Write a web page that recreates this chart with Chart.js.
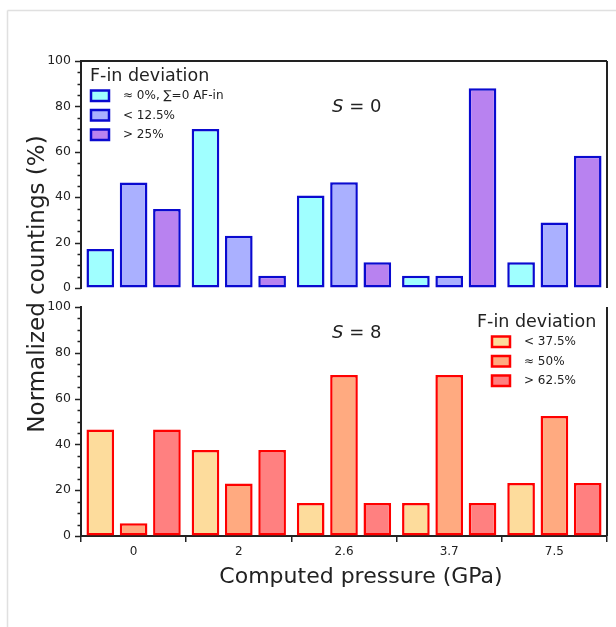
<!DOCTYPE html>
<html>
<head>
<meta charset="utf-8">
<script src="https://cdn.jsdelivr.net/npm/chart.js@4.4.1/dist/chart.umd.min.js"></script>
<style>
  body { margin: 0; background: #fff; }
  #wrap { position: relative; width: 616px; height: 627px; }
  canvas { position: absolute; left: 0; top: 0; }
</style>
</head>
<body>
<div id="wrap">
  <canvas id="bottomChart" width="616" height="627"></canvas>
  <canvas id="topChart" width="616" height="627"></canvas>
</div>
<script>
const pressures = ['0', '2', '2.6', '3.7', '7.5'];

// S = 0 panel
const s0Labels = ['\u2248 0%, \u2211=0 AF-in', '< 12.5%', '> 25%'];
const s0Zero = [17.2, 70, 40.7, 5.4, 11.3];
const s0Low = [46.5, 23, 46.6, 5.4, 28.9];
const s0High = [34.8, 5.4, 11.3, 88, 58.3];

// S = 8 panel
const s8Labels = ['< 37.5%', '\u2248 50%', '> 62.5%'];
const s8Low = [46.5, 37.6, 14.4, 14.4, 23.1];
const s8Half = [5.6, 22.9, 70.3, 70.3, 52.4];
const s8High = [46.5, 37.6, 14.4, 14.4, 23.1];

const FONT = "'DejaVu Sans', sans-serif";
const INK = '#222';

function line(ctx, x1, y1, x2, y2) {
  ctx.beginPath();
  ctx.moveTo(x1, y1);
  ctx.lineTo(x2, y2);
  ctx.stroke();
}

// frame, minor ticks, borders, S label, legend
const panelDecor = {
  id: 'panelDecor',
  afterDraw(chart, args, opts) {
    const ctx = chart.ctx;
    const { left, right, top, bottom } = chart.chartArea;
    const y = chart.scales.y;
    ctx.save();

    if (opts.frame) {
      ctx.strokeStyle = '#e0e0e0';
      ctx.lineWidth = 1.5;
      line(ctx, 7.5, 627, 7.5, 10.5);
      line(ctx, 7.5, 10.5, 616, 10.5);
    }

    ctx.strokeStyle = INK;
    ctx.lineWidth = 1.5;
    for (let v = 0; v <= 100; v += 5) {
      const py = Math.round(y.getPixelForValue(v)) + 0.5;
      const len = v % 20 === 0 ? 6 : 3.5;
      line(ctx, left - len, py, left, py);
    }
    ctx.lineWidth = 2;
    line(ctx, right, top, right, bottom);
    if (opts.topEdge) line(ctx, left, top, right, top);

    // S label
    ctx.fillStyle = INK;
    ctx.textBaseline = 'alphabetic';
    ctx.textAlign = 'left';
    ctx.font = 'italic 18px ' + FONT;
    ctx.fillText('S', opts.sX, opts.sY);
    const w = ctx.measureText('S').width;
    ctx.font = '18px ' + FONT;
    ctx.fillText(' = ' + opts.sValue, opts.sX + w, opts.sY);

    // legend
    ctx.font = '17.5px ' + FONT;
    ctx.fillText('F-in deviation', opts.legX, opts.legY);
    ctx.font = '12px ' + FONT;
    ctx.textBaseline = 'middle';
    chart.data.datasets.forEach((ds, i) => {
      const by = opts.legY + 8.5 + i * 19.5;
      ctx.fillStyle = ds.backgroundColor;
      ctx.fillRect(opts.boxX + 1, by + 1, 18, 10.5);
      ctx.strokeStyle = ds.borderColor;
      ctx.lineWidth = 2.5;
      ctx.strokeRect(opts.boxX + 1, by + 1, 18, 10.5);
      ctx.fillStyle = INK;
      ctx.fillText(ds.label, opts.textX, by + 6.5);
    });

    if (opts.titles) {
      ctx.fillStyle = INK;
      ctx.textAlign = 'center';
      ctx.textBaseline = 'alphabetic';
      ctx.font = '22px ' + FONT;
      ctx.fillText('Computed pressure (GPa)', 361, 583);
      ctx.save();
      ctx.translate(44, 284);
      ctx.rotate(-Math.PI / 2);
      ctx.font = '23px ' + FONT;
      ctx.fillText('Normalized countings (%)', 0, 0);
      ctx.restore();
    }
    ctx.restore();
  }
};

function makeOptions(pad, showX, decor) {
  return {
    responsive: false,
    animation: false,
    devicePixelRatio: 1,
    layout: { padding: pad },
    plugins: {
      legend: { display: false },
      tooltip: { enabled: false },
      panelDecor: decor
    },
    scales: {
      x: {
        display: showX,
        offset: true,
        afterFit(s) { s.height = showX ? 20 : 0; },
        grid: { offset: true, drawOnChartArea: false, drawTicks: true, tickLength: 6, color: INK, lineWidth: 1.5 },
        border: { display: true, color: INK, width: 2 },
        ticks: { color: INK, padding: 3, font: { family: FONT, size: 12 } }
      },
      y: {
        min: 0,
        max: 100,
        afterFit(s) { s.width = 81; },
        grid: { display: true, drawOnChartArea: false, drawTicks: false },
        border: { display: true, color: INK, width: 2 },
        ticks: { stepSize: 20, color: INK, padding: 10, font: { family: FONT, size: 12.5 } }
      }
    }
  };
}

function bars(label, values, fill, edge) {
  return {
    label: label,
    data: values,
    backgroundColor: fill,
    borderColor: edge,
    borderWidth: 2.5,
    borderSkipped: false,
    categoryPercentage: 0.95,
    barPercentage: 0.83
  };
}

new Chart(document.getElementById('topChart'), {
  type: 'bar',
  data: {
    labels: pressures,
    datasets: [
      bars(s0Labels[0], s0Zero, '#a0ffff', '#0a0ad0'),
      bars(s0Labels[1], s0Low, '#aab0ff', '#0a0ad0'),
      bars(s0Labels[2], s0High, '#b882f0', '#0a0ad0')
    ]
  },
  options: makeOptions({ left: 0, right: 9, top: 61, bottom: 339 }, false, {
    frame: true, titles: true, topEdge: true,
    sX: 332, sY: 112, sValue: '0',
    legX: 90, legY: 81, boxX: 90, textX: 123
  }),
  plugins: [panelDecor]
});

new Chart(document.getElementById('bottomChart'), {
  type: 'bar',
  data: {
    labels: pressures,
    datasets: [
      bars(s8Labels[0], s8Low, '#fddc9c', '#ff0000'),
      bars(s8Labels[1], s8Half, '#ffaa80', '#ff0000'),
      bars(s8Labels[2], s8High, '#ff8080', '#ff0000')
    ]
  },
  options: makeOptions({ left: 0, right: 9, top: 307, bottom: 71 }, true, {
    frame: false, titles: false, topEdge: false,
    sX: 332, sY: 338, sValue: '8',
    legX: 477, legY: 327, boxX: 491, textX: 524
  }),
  plugins: [panelDecor]
});
</script>
</body>
</html>
